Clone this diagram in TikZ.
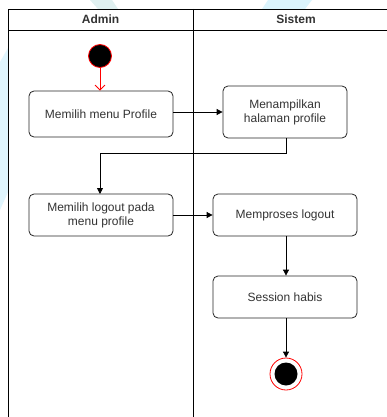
\documentclass[tikz,border=0pt]{standalone}
\usepackage{fontspec}
\setmainfont{Liberation Sans}
\usetikzlibrary{arrows.meta}
\begin{document}
\begin{tikzpicture}[x=1pt,y=-1pt,
  action/.style={draw=black!85,line width=0.8pt,rounded corners=5pt,fill=white,
    align=center,font=\fontsize{12}{14}\selectfont,text=black!80,inner sep=0pt},
  flow/.style={draw=black,line width=0.8pt,-{Triangle[length=6pt,width=6pt]}},
  lane/.style={draw=black,line width=0.8pt},
  lanehead/.style={font=\bfseries\fontsize{12}{14}\selectfont,text=black!80}]
\useasboundingbox (0,0) rectangle (386,417);
\fill[white] (0,0) rectangle (386,417);
% faint background shapes
\fill[cyan!12] (0,62) -- (8,48) -- (8,192) -- (0,210) -- cycle;
\fill[teal!12] (90,0) -- (112,0) -- (118,9) -- (98,9) -- cycle;
\fill[cyan!14] (268,0) -- (312,0) -- (305,9) -- (262,9) -- cycle;
% swimlanes
\draw[lane] (8,420) -- (8,9) -- (390,9);
\draw[lane] (8,30) -- (390,30);
\draw[lane] (193,9) -- (193,420);
\node[lanehead] (hadmin) at (100.5,19.5) {Admin};
\node[lanehead] (hsistem) at (296,19.5) {Sistem};
% start
\node[circle,fill=black,draw=red,line width=0.8pt,minimum size=23pt,inner sep=0pt] (start) at (100,56) {};
% actions
\node[action,minimum width=144pt,minimum height=46pt] (a1) at (101,114) {Memilih menu Profile};
\node[action,minimum width=124pt,minimum height=52pt] (a2) at (285,112) {Menampilkan\\halaman profile};
\node[action,minimum width=144pt,minimum height=42pt] (a3) at (101,215) {Memilih logout pada\\menu profile};
\node[action,minimum width=144pt,minimum height=42pt] (a4) at (285,215) {Memproses logout};
\node[action,minimum width=144pt,minimum height=42pt] (a5) at (285,297) {Session habis};
% end
\node[circle,draw=red,line width=0.8pt,fill=white,minimum size=32pt,inner sep=0pt] (end) at (286,374) {};
\node[circle,fill=black,minimum size=23pt,inner sep=0pt] (endin) at (end.center) {};
% connectors
\draw[draw=red,line width=0.8pt,-{Straight Barb[length=5pt,width=10pt]}] (start) -- (start.center |- a1.north);
\draw[flow] (a1.east |- 0,112) -- (a2.west |- 0,112);
\draw[flow] (a2.south -| 286,0) |- (100,153) -- (100,194);
\draw[flow] (a3) -- (a4);
\draw[flow] (a4.south -| 286,0) -- (a5.north -| 286,0);
\draw[flow] (a5.south -| 286,0) -- (end.north);
\end{tikzpicture}
\end{document}
